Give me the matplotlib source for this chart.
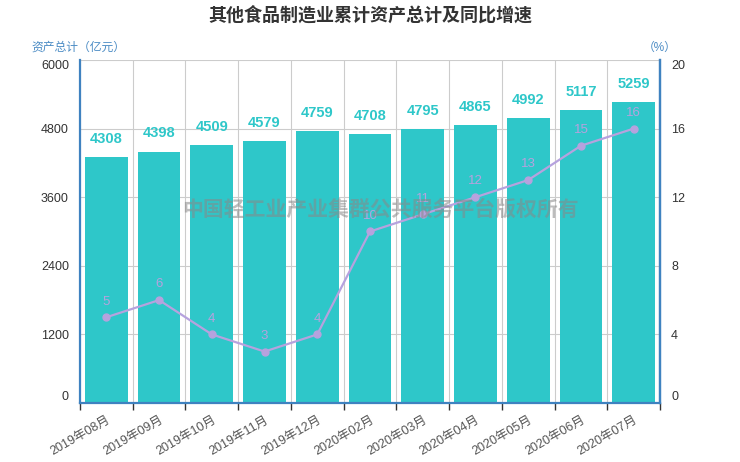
import matplotlib
matplotlib.use("Agg")
import matplotlib.pyplot as plt
from matplotlib.ticker import FixedLocator

plt.rcParams['font.family'] = ['Liberation Sans', 'Noto Sans CJK SC', 'DejaVu Sans']

categories = ["2019年08月", "2019年09月", "2019年10月", "2019年11月", "2019年12月",
              "2020年02月", "2020年03月", "2020年04月", "2020年05月", "2020年06月", "2020年07月"]
assets = [4308, 4398, 4509, 4579, 4759, 4708, 4795, 4865, 4992, 5117, 5259]
growth = [5, 6, 4, 3, 4, 10, 11, 12, 13, 15, 16]
left_ticks = [0, 1200, 2400, 3600, 4800, 6000]
right_ticks = [0, 4, 8, 12, 16, 20]

title = "其他食品制造业累计资产总计及同比增速"
left_label = "资产总计（亿元）"
right_label = "（%）"
watermark = "中国轻工业产业集群公共服务平台版权所有"

bar_color = "#2ec7c9"
line_color = "#b6a2de"
axis_blue = "#3f82c0"
grid_gray = "#cccccc"

fig = plt.figure(figsize=(7.4, 4.62), dpi=100)
W, H = 740, 462
ax = fig.add_axes([80 / W, (H - 403) / H, 580 / W, 343 / H])
x = list(range(len(categories)))

ax.set_xlim(-0.5, len(categories) - 0.5)
ax.set_ylim(0, 6000)
ax.bar(x, assets, width=0.81, color=bar_color, zorder=2)
for xi, v in zip(x, assets):
    ax.annotate(str(v), (xi, v), xytext=(0, 8), textcoords="offset points",
                ha="center", va="bottom", color=bar_color, fontsize=10.5,
                fontweight="bold", zorder=5)

ax.yaxis.set_major_locator(FixedLocator(left_ticks))
ax.set_yticklabels([str(t) for t in left_ticks])
ax.tick_params(axis="y", length=0, labelsize=9, labelcolor="#333333", pad=8)
labs = ax.get_yticklabels()
labs[0].set_va("bottom")
labs[-1].set_va("top")

ax.set_xticks(x)
ax.set_xticklabels(categories, rotation=30, ha="right", rotation_mode="anchor",
                   fontsize=9, color="#555555")
ax.tick_params(axis="x", which="major", length=0, pad=8)
ax.set_xticks([i - 0.5 for i in range(len(categories) + 1)], minor=True)
ax.tick_params(axis="x", which="minor", length=5, width=1, color="#333333", direction="out")
for lab in ax.get_xticklabels():
    lab.set_x(lab.get_position()[0])

ax.grid(False)
for t in left_ticks:
    ax.axhline(t, color=grid_gray, lw=0.8, zorder=1)
for b in [i - 0.5 for i in range(len(categories) + 1)]:
    ax.axvline(b, color=grid_gray, lw=0.8, zorder=1)

for s in ["top"]:
    ax.spines[s].set_visible(False)
for s in ["left", "bottom", "right"]:
    ax.spines[s].set_color(axis_blue)
    ax.spines[s].set_linewidth(1.6)
    ax.spines[s].set_zorder(4)

ax2 = ax.twinx()
ax2.set_ylim(0, 20)
ax2.plot(x, growth, color=line_color, lw=1.6, marker="o", markersize=5, zorder=6)
for xi, v in zip(x, growth):
    ax2.annotate(str(v), (xi, v), xytext=(0, 7), textcoords="offset points",
                 ha="center", va="bottom", color=line_color, fontsize=9.5, zorder=7)
ax2.yaxis.set_major_locator(FixedLocator(right_ticks))
ax2.set_yticklabels([str(t) for t in right_ticks])
ax2.tick_params(axis="y", length=0, labelsize=9, labelcolor="#333333", pad=8)
rl = ax2.get_yticklabels()
rl[0].set_va("bottom")
rl[-1].set_va("top")
for s in ["top", "left", "bottom"]:
    ax2.spines[s].set_visible(False)
ax2.spines["right"].set_color(axis_blue)
ax2.spines["right"].set_linewidth(1.6)

fig.text(370 / W, 1 - 15 / H, title, ha="center", va="center", fontsize=13,
         fontweight="bold", color="#333333")
fig.text(78 / W, 1 - 48 / H, left_label, ha="center", va="center", fontsize=8.5,
         color="#4a8bc4")
fig.text(660 / W, 1 - 48 / H, right_label, ha="center", va="center", fontsize=8.5,
         color="#4a8bc4")
fig.text(380 / W, 1 - 209 / H, watermark, ha="center", va="center", fontsize=15,
         fontweight="bold", color="#888888", alpha=0.55, zorder=10)

fig.savefig("out.png", dpi=100)
